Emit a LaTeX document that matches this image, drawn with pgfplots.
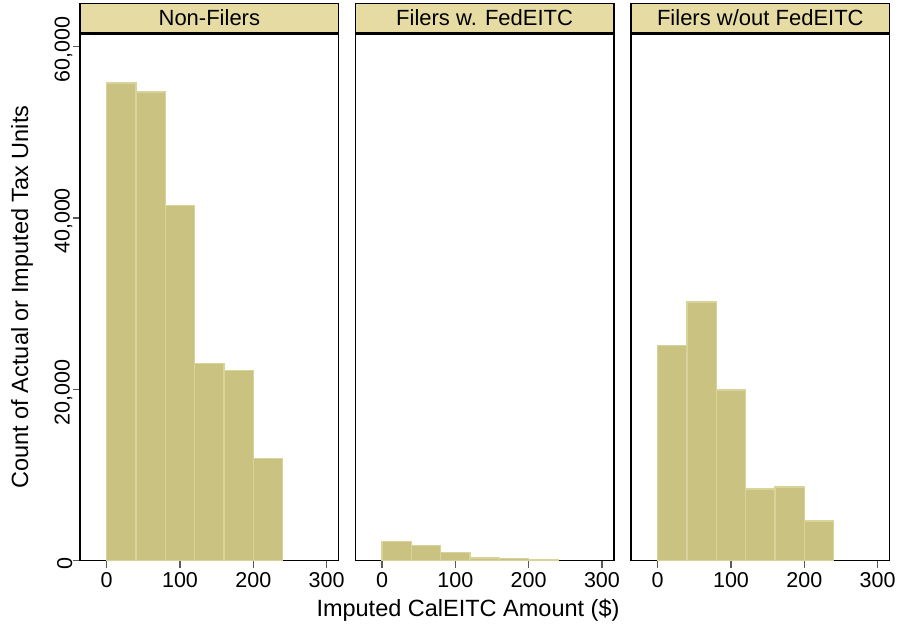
\documentclass[border=0pt]{standalone}
\usepackage{pgfplots}
\pgfplotsset{compat=1.18}
\usepackage{fontspec}
\setmainfont{Liberation Sans}
\definecolor{barfill}{RGB}{201,194,128}
\definecolor{baredge}{RGB}{216,211,152}
\definecolor{headfill}{RGB}{231,219,164}
\definecolor{axgray}{RGB}{90,90,90}
\pgfplotsset{
  panel/.style={
    scale only axis, width=258.7pt, height=526.5pt,
    xmin=-36.4, xmax=316.4, ymin=0, ymax=61480,
    axis line style={black, line width=1.3pt},
    tick align=outside, major tick length=7.5pt,
    tick style={axgray, line width=1.2pt},
    xtick={0,100,200,300},
    xtick pos=bottom, ytick pos=left,
    xticklabel style={font=\fontsize{21.5}{24}\selectfont, inner sep=0pt, anchor=north, yshift=-4pt},
    /pgf/number format/assume math mode=true,
    title style={at={(0.5,1)}, anchor=south, fill=headfill, draw=black, line width=1.1pt,
      minimum width=258.7pt, minimum height=29pt, inner sep=0pt,
      font=\fontsize{22}{24}\selectfont, yshift=-4.8pt},
    clip=false,
  },
  hbar/.style={ybar interval, fill=barfill, draw=baredge, line width=1.4pt},
}
\begin{document}
\begin{tikzpicture}[x=1pt,y=1pt]
\useasboundingbox (0,0) rectangle (898,632);
% Panel 1
\begin{axis}[panel, at={(80pt,71.5pt)}, anchor=south west,
  title={Non-Filers},
  ytick={0,20000,40000,60000},
  yticklabels={0,{20,000},{40,000},{60,000}},
  yticklabel style={rotate=90, anchor=south, inner sep=0pt, xshift=-3pt, font=\fontsize{21.5}{24}\selectfont},
]
\addplot[hbar] coordinates {(0,55770) (40,54710) (80,41480) (120,23030) (160,22210) (200,11935) (240,0)};
\end{axis}
% Panel 2
\begin{axis}[panel, at={(355.3pt,71.5pt)}, anchor=south west,
  title={Filers w. FedEITC},
  ytick=\empty,
]
\addplot[hbar] coordinates {(0,2220) (40,1750) (80,900) (120,270) (160,260) (200,100) (240,0)};
\end{axis}
% Panel 3
\begin{axis}[panel, at={(631pt,71.5pt)}, anchor=south west,
  title={Filers w/out FedEITC},
  ytick=\empty,
]
\addplot[hbar] coordinates {(0,25130) (40,30200) (80,19920) (120,8370) (160,8600) (200,4630) (240,0)};
\end{axis}
\node[font=\fontsize{23.5}{26}\selectfont, anchor=base] at (468,632-617) {Imputed CalEITC Amount (\$)};
\node[font=\fontsize{23.5}{26}\selectfont, rotate=90, anchor=base] at (28,632-297) {Count of Actual or Imputed Tax Units};
\end{tikzpicture}
\end{document}
